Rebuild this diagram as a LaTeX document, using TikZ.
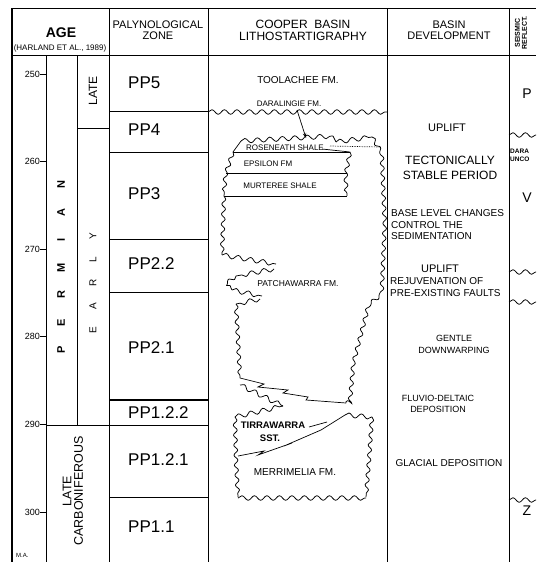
\documentclass[tikz,border=0pt]{standalone}
\usepackage{fontspec}
\setmainfont{Liberation Sans}
\usetikzlibrary{decorations.pathmorphing,arrows.meta}
\newcommand{\fsz}[1]{\fontsize{#1}{#1}\selectfont}
\newcommand{\lbx}[2]{\makebox[#1][c]{#2}}
\begin{document}
\begin{tikzpicture}[x=1pt,y=-1pt,
  frame/.style={line width=1pt},
  thin/.style={line width=0.7pt},
  zone/.style={anchor=west,inner sep=0pt,font=\fsz{17}},
  txt/.style={inner sep=0pt,align=center},
  ltxt/.style={inner sep=0pt,align=left,anchor=west},
  wavy/.style={decorate,decoration={snake,amplitude=2.3pt,segment length=12.5pt},line width=0.75pt},
  wavys/.style={decorate,decoration={snake,amplitude=1.9pt,segment length=10pt},line width=0.75pt}]
\useasboundingbox (0,0) rectangle (536,562);
% frame
\draw[frame] (12,8) -- (536,8);
\draw[frame] (12,55) -- (536,55);
\draw[line width=1.6pt] (12,8) -- (12,562);
\draw[frame] (46,55) -- (46,562);
\draw[frame] (77,55) -- (77,425);
\draw[frame] (109,8) -- (109,562);
\draw[frame] (208,8) -- (208,562);
\draw[frame] (387,8) -- (387,562);
\draw[frame] (509,8) -- (509,562);
\draw[frame] (77,128) -- (109,128);
\draw[frame] (46,425) -- (208,425);
\foreach \yy in {111,152,239,292,497} \draw[frame] (109,\yy) -- (208,\yy);
\draw[line width=1.4pt] (109,400) -- (208,400);
% ticks
\foreach \m/\yy in {250/74,260/161.6,270/249.2,280/336.8,290/424.4,300/512}{
  \draw[frame] (40,\yy) -- (46,\yy);
  \node[anchor=east,inner sep=0pt,font=\fsz{9}] (t\m) at (40,\yy) {\m};
}
\node[anchor=west,inner sep=0pt,font=\fsz{6}] (ma) at (16,555) {M.A.};
% header
\node[txt,font=\bfseries\fsz{14}] (hage) at (61,33) {AGE};
\node[txt,font=\fsz{8}] (hhar) at (60,48) {(HARLAND ET AL., 1989)};
\node[txt,font=\fsz{11}] (hpal) at (158,30) {PALYNOLOGICAL\\ZONE};
\node[txt,font=\fsz{12}] (hlit) at (303,30) {COOPER\ \ BASIN\\LITHOSTARTIGRAPHY};
\node[txt,font=\fsz{11}] (hbas) at (449,30) {BASIN\\DEVELOPMENT};
\node[txt,rotate=90,font=\bfseries\fsz{7}] (hsei) at (521,33) {SEISMIC\\REFLECT.};
% age column
\node[txt,rotate=90,font=\bfseries\fsz{11}] (perm) at (61,267.5)
  {\lbx{27.5pt}{P}\lbx{27.5pt}{E}\lbx{27.5pt}{R}\lbx{27.5pt}{M}\lbx{27.5pt}{I}\lbx{27.5pt}{A}\lbx{27.5pt}{N}};
\node[txt,rotate=90,font=\fsz{10}] (early) at (93,283)
  {\lbx{23.5pt}{E}\lbx{23.5pt}{A}\lbx{23.5pt}{R}\lbx{23.5pt}{L}\lbx{23.5pt}{Y}};
\node[txt,rotate=90,font=\fsz{12}] (late) at (93,91) {LATE};
\node[txt,rotate=90,font=\fontsize{12.5}{11.5}\selectfont] (lcarb) at (73,491) {LATE\\CARBONIFEROUS};
% zones
\node[zone] (pp5) at (128,83) {PP5};
\node[zone] (pp4) at (128,130) {PP4};
\node[zone] (pp3) at (128,194) {PP3};
\node[zone] (pp22) at (128,264) {PP2.2};
\node[zone] (pp21) at (128,348) {PP2.1};
\node[zone] (pp122) at (128,413) {PP1.2.2};
\node[zone] (pp121) at (128,460) {PP1.2.1};
\node[zone] (pp11) at (128,527) {PP1.1};
% lithostratigraphy
\node[txt,font=\fsz{10}] (tool) at (298,80) {TOOLACHEE FM.};
\node[txt,font=\fsz{8}] (dara) at (289,104) {DARALINGIE FM.};
\draw[wavy] (208,112) -- (387,112);
\coordinate (darend) at (306,138);
\draw[thin,-{Stealth[length=5pt,width=3.5pt]}] (297,110) -- (darend);
% Roseneath / Epsilon / Murteree
\draw[wavy] (241,141) -- (333,136);
\draw[thin] (333,136) -- (336,142);
\draw[wavy] (336,142) -- (372,137);
\draw[thin] (241,141) -- (233,152);
\draw[thin] (233,152) -- (350,152);
\draw[thin] (322,149) -- (350,152);
\draw[thin,densely dotted] (330,146) -- (380,147);
\draw[thin] (226,173) -- (347,173);
\draw[thin] (224,196) -- (347,196);
\draw[wavys] (233,152) -- (226,173) -- (224,196);
\draw[wavys] (350,152) -- (346,173) -- (347,196);
\node[txt,font=\fsz{8}] (rose) at (285,148) {ROSENEATH SHALE};
\node[txt,font=\fsz{8}] (eps) at (268,164) {EPSILON FM};
\node[txt,font=\fsz{8}] (murt) at (280,186) {MURTEREE SHALE};
% Patchawarra outline
\draw[wavys] (372,137) -- (380,150) -- (383,220) -- (380,288) -- (365,300) -- (350,357) -- (346,403);
\draw[wavys] (224,196) -- (222,255);
\draw[wavy] (222,255) -- (276,264);
\draw[wavy] (274,269) -- (236,276);
\draw[wavys] (236,276) -- (228,282) -- (232,290);
\draw[wavy] (232,290) -- (262,296);
\draw[wavy] (260,299) -- (236,304);
\draw[wavys] (236,304) -- (238,340) -- (240,378);
\draw[thin] (240,378) -- (264,384) -- (258,387) -- (288,390) -- (283,393) -- (308,397) -- (306,400) -- (346,403);
\draw[wavy] (240,385) -- (283,406);
\node[txt,font=\fsz{8.5}] (patch) at (298,284) {PATCHAWARRA FM.};
% Tirrawarra / Merrimelia
\draw[wavy] (235,417) -- (283,406);
\draw[wavy] (345,415) -- (372,417);
\draw[wavys] (235,417) -- (236,460) -- (238,497);
\draw[wavys] (372,417) -- (369,460) -- (366,497);
\draw[wavy] (238,498) -- (366,498);
\draw[thin] (238,456) -- (264,451) -- (258,455) -- (292,443) -- (284,446) -- (321,430) -- (345,415);
\draw[thin] (309,427) -- (327,422);
\node[txt,font=\bfseries\fsz{9.5}] (tirra) at (273,425) {TIRRAWARRA};
\node[txt,font=\bfseries\fsz{9.5}] (sst) at (270,438) {SST.};
\node[txt,font=\fsz{10}] (merr) at (295,472) {MERRIMELIA FM.};
% basin development
\node[txt,font=\fsz{11}] (up1) at (447,128) {UPLIFT};
\node[txt,font=\fontsize{12}{15}\selectfont] (stab) at (450,168) {TECTONICALLY\\STABLE PERIOD};
\node[ltxt,font=\fontsize{10}{11.5}\selectfont] (base) at (391,225) {BASE LEVEL CHANGES\\CONTROL THE\\SEDIMENTATION};
\node[txt,font=\fsz{11}] (up2) at (440,269) {UPLIFT};
\node[ltxt,font=\fontsize{10}{12}\selectfont] (rej) at (390,287) {REJUVENATION OF\\PRE-EXISTING FAULTS};
\node[txt,font=\fontsize{9}{12}\selectfont] (gent) at (454,344) {GENTLE\\DOWNWARPING};
\node[txt,font=\fontsize{9}{11}\selectfont] (fluv) at (438,404) {FLUVIO-DELTAIC\\DEPOSITION};
\node[txt,font=\fsz{10}] (glac) at (449,463) {GLACIAL DEPOSITION};
% seismic
\node[txt,font=\fsz{14}] (sp) at (527,94) {P};
\node[txt,font=\fsz{14}] (sv) at (527,198) {V};
\node[txt,font=\fsz{14}] (sz) at (527,511) {Z};
\draw[wavy] (509,135) -- (536,135);
\node[ltxt,font=\bfseries\fontsize{6.5}{8}\selectfont] (unc) at (510,155) {DARA\\UNCO};
\draw[wavy] (509,272) -- (536,272);
\draw[wavy] (509,302) -- (536,302);
\draw[wavy] (509,500) -- (536,500);
\end{tikzpicture}
\end{document}
